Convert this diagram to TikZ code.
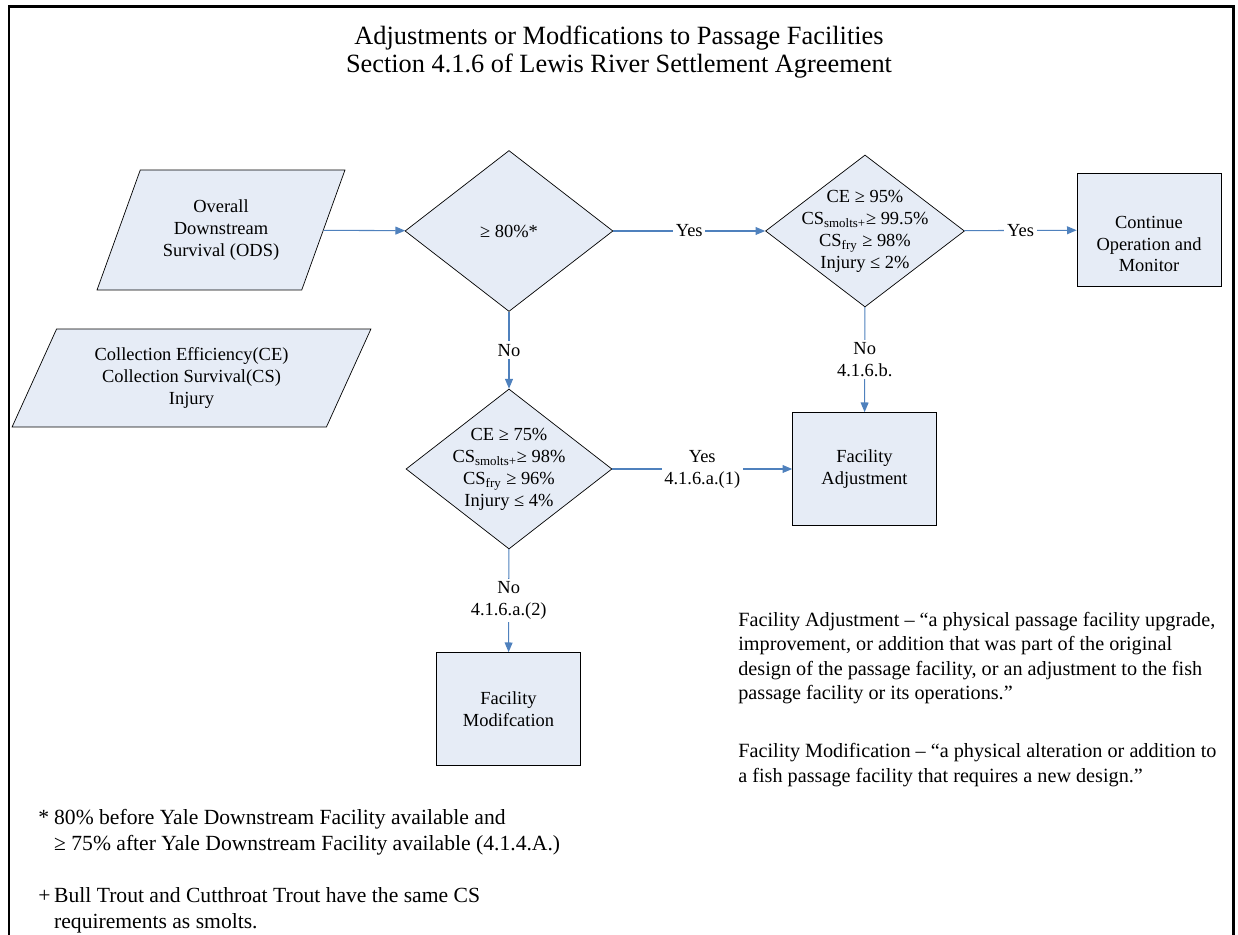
\documentclass[tikz,border=0pt]{standalone}
\usepackage{fontspec}
\setmainfont{Liberation Serif}
\usepackage{tikz}
\usetikzlibrary{positioning,arrows.meta,calc,shapes.geometric}

\definecolor{boxfill}{RGB}{230,236,246}
\definecolor{linkblue}{RGB}{79,129,189}

\begin{document}
\begin{tikzpicture}[
            x=0.02cm, y=-0.02cm,
            every node/.style={font=\fontsize{10.5}{12.5}\selectfont},
            io/.style={trapezium, trapezium stretches=true, draw, thin, fill=boxfill, inner sep=2pt, align=center},
            decision/.style={diamond, draw, thin, fill=boxfill, inner sep=0pt},
            dtext/.style={align=center, inner sep=0pt},
            process/.style={rectangle, draw, thin, fill=boxfill, minimum width=2.88cm, minimum height=2.26cm, align=center},
            lbl/.style={fill=white, text=black, inner sep=1.5pt, align=center},
            note/.style={align=left, inner sep=0pt, anchor=north west},
            arrow/.style={-{Triangle[length=5.5pt, width=4.5pt]}, linkblue, line width=0.6pt}
        ]
            \useasboundingbox (0,0) rectangle (1238,935);
            % frame, open at the bottom
            \draw[line width=1.7pt] (9,935) -- (9,7) -- (1233,7) -- (1233,935);

            \node[align=center, font=\fontsize{15}{16}\selectfont] (title) at (619,52)
                {Adjustments or Modfications to Passage Facilities\\Section 4.1.6 of Lewis River Settlement Agreement};

            % inputs
            \node[io, trapezium left angle=64, trapezium right angle=116, minimum width=4.96cm, minimum height=2.4cm] (ods) at (221,230)
                {Overall\\Downstream\\Survival (ODS)};
            \node[io, trapezium left angle=64, trapezium right angle=116, minimum width=7.18cm, minimum height=1.96cm] (ce) at (191.5,378)
                {Collection Efficiency(CE)\\Collection Survival(CS)\\Injury};

            % decisions
            \node[decision, minimum width=4.16cm, minimum height=3.22cm] (d1) at (509,231) {};
            \node[dtext] (d1txt) at (d1) {≥ 80\%*};
            \node[decision, minimum width=3.98cm, minimum height=3.04cm] (d2) at (865,231) {};
            \node[dtext] (d2txt) at (d2) {CE ≥ 95\%\\CS\textsubscript{smolts+}≥ 99.5\%\\CS\textsubscript{fry} ≥ 98\%\\Injury ≤ 2\%};
            \node[decision, minimum width=4.12cm, minimum height=3.2cm] (d3) at (509,469) {};
            \node[dtext] (d3txt) at (d3) {CE ≥ 75\%\\CS\textsubscript{smolts+}≥ 98\%\\CS\textsubscript{fry} ≥ 96\%\\Injury ≤ 4\%};

            % outcomes
            \node[process] (cont) at (1149,230) {};
            \node[dtext] (conttxt) at (1149,244) {Continue\\Operation and\\Monitor};
            \node[process] (adj) at (864.5,469) {Facility\\Adjustment};
            \node[process] (mod) at (508.5,709) {Facility\\Modifcation};

            % connectors
            \draw[arrow] (ods) -- (d1);
            \draw[arrow] (d1) -- node[lbl] (y1) {Yes} (d2);
            \draw[arrow] (d2) -- node[lbl] (y2) {Yes} (cont);
            \draw[arrow] (d1) -- node[lbl] (n1) {No} (d3);
            \draw[arrow] (d2) -- node[lbl] (n2) {No\\4.1.6.b.} (adj);
            \draw[arrow] (d3) -- node[lbl] (y3) {Yes\\4.1.6.a.(1)} (adj);
            \draw[arrow] (d3) -- node[lbl] (n3) {No\\4.1.6.a.(2)} (mod);

            % definitions
            \node[note, font=\fontsize{11.5}{13.8}\selectfont] (defs) at (738,612)
                {Facility Adjustment – “a physical passage facility upgrade,\\
                 improvement, or addition that was part of the original\\
                 design of the passage facility, or an adjustment to the fish\\
                 passage facility or its operations.”\\[19.5pt]
                 Facility Modification – “a physical alteration or addition to\\
                 a fish passage facility that requires a new design.”};

            % footnotes
            \node[note, font=\fontsize{12.3}{14.7}\selectfont] (star) at (38,809)
                {\makebox[9pt][l]{*}80\% before Yale Downstream Facility available and\\
                 \hspace{9pt}≥ 75\% after Yale Downstream Facility available (4.1.4.A.)};
            \node[note, font=\fontsize{12.3}{14.7}\selectfont] (plus) at (38,887)
                {\makebox[9pt][l]{+}Bull Trout and Cutthroat Trout have the same CS\\
                 \hspace{9pt}requirements as smolts.};
        \end{tikzpicture}
\end{document}
